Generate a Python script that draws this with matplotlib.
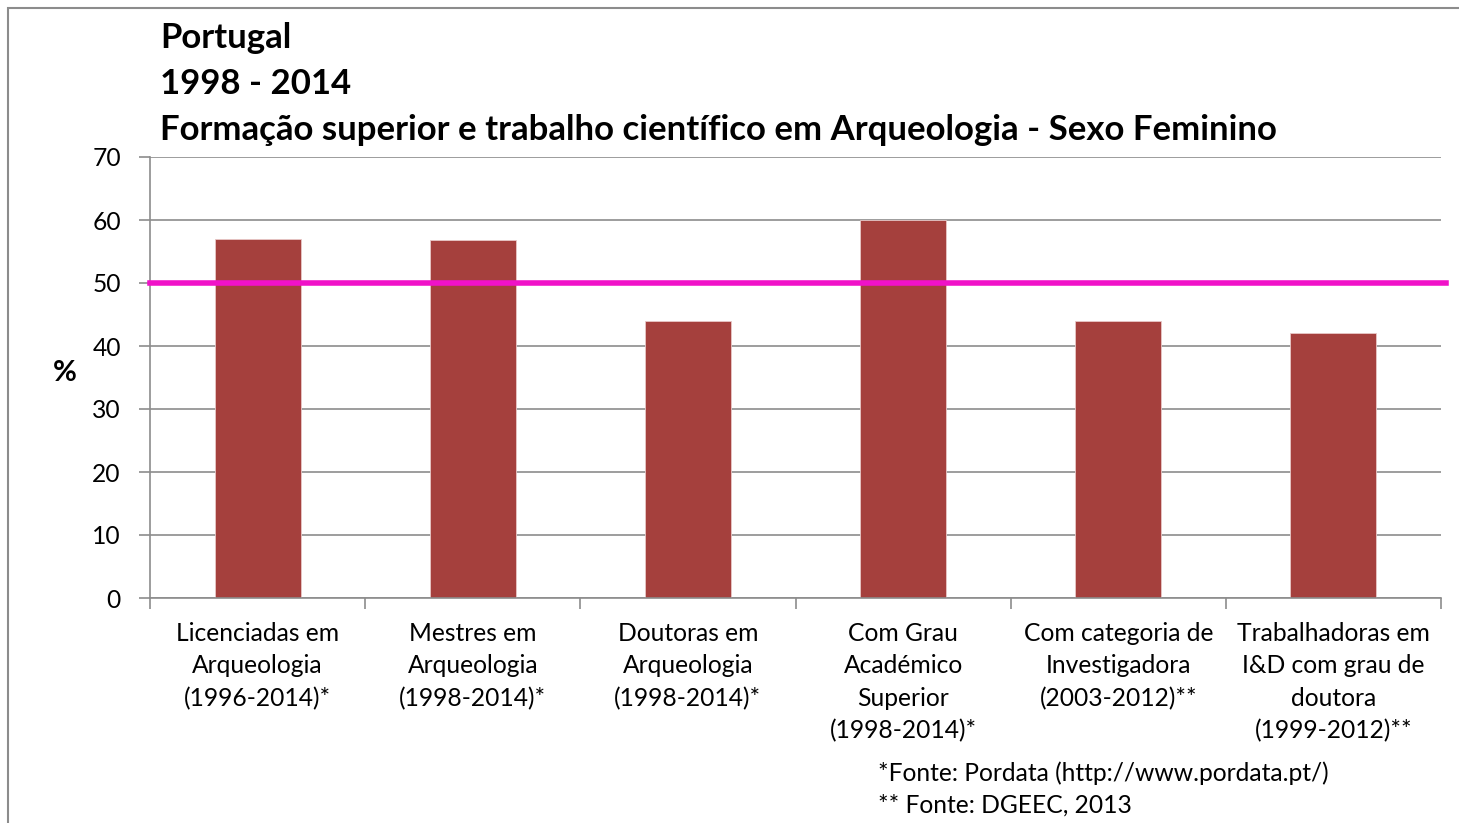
import matplotlib
matplotlib.use("Agg")
from matplotlib import pyplot as plt
from matplotlib.patches import Rectangle

# data
categorias = ['Licenciadas em\nArqueologia\n(1996-2014)*',
              'Mestres em\nArqueologia\n(1998-2014)*',
              'Doutoras em\nArqueologia\n(1998-2014)*',
              'Com Grau\nAcadémico\nSuperior\n(1998-2014)*',
              'Com categoria de\nInvestigadora\n(2003-2012)**',
              'Trabalhadoras em\nI&D com grau de\ndoutora\n(1999-2012)**']
valores = [57, 56.8, 44, 60, 44, 42]
paridade = 50
titulo = ['Portugal', '1998 - 2014',
          'Formação superior e trabalho científico em Arqueologia - Sexo Feminino']
fontes = ['*Fonte: Pordata (http://www.pordata.pt/)', '** Fonte: DGEEC, 2013']

plt.rcParams['font.family'] = ['Lato', 'DejaVu Sans']

W, H = 1459, 823
fig = plt.figure(figsize=(W / 100, H / 100), dpi=100)
ax = fig.add_axes([150 / W, 1 - 598 / H, (1441 - 150) / W, (598 - 157) / H])

x = list(range(len(valores)))
ax.bar(x, valores, width=0.4, color='#A5403D', edgecolor='#E8C8C8', linewidth=0.6, zorder=2)
ax.axhline(paridade, xmin=0, xmax=1.004, color='#F012C8', linewidth=4, zorder=3, clip_on=False)

ax.set_xlim(-0.5, len(valores) - 0.5)
ax.set_ylim(0, 70)
ax.set_yticks(range(0, 71, 10))
ax.grid(axis='y', color='#8C8C8C', linewidth=1.2, zorder=0)
ax.set_xticks(x)
ax.set_xticklabels(categorias, fontsize=17.7, linespacing=1.5)
ax.set_xticks([i - 0.5 for i in range(len(valores) + 1)], minor=True)
ax.tick_params(axis='x', which='major', length=0, pad=17)
ax.tick_params(axis='x', which='minor', length=8, width=1.2, color='#8C8C8C', direction='out')
ax.tick_params(axis='y', length=8, width=1.2, color='#8C8C8C', labelsize=17.7, pad=13)
for s in ['top', 'right']:
    ax.spines[s].set_visible(False)
for s in ['left', 'bottom']:
    ax.spines[s].set_color('#8C8C8C')
    ax.spines[s].set_linewidth(1.2)

fig.text(65 / W, 1 - 373 / H, '%', fontsize=21, fontweight='bold', ha='center', va='center')

for i, t in enumerate(titulo):
    fig.text(160 / W, 1 - (38 + 46 * i) / H, t, fontsize=25, fontweight='bold', ha='left', va='center')

for i, t in enumerate(fontes):
    fig.text(878 / W, 1 - (773 + 32 * i) / H, t, fontsize=17.7, ha='left', va='center')

# chart-area frame (left and top edges only show)
fig.patches.append(Rectangle((8 / W, -0.1), 1.2, 1 - 8 / H + 0.1, transform=fig.transFigure,
                             fill=False, edgecolor='#8C8C8C', linewidth=1.5))

fig.savefig('out.png', dpi=100)
